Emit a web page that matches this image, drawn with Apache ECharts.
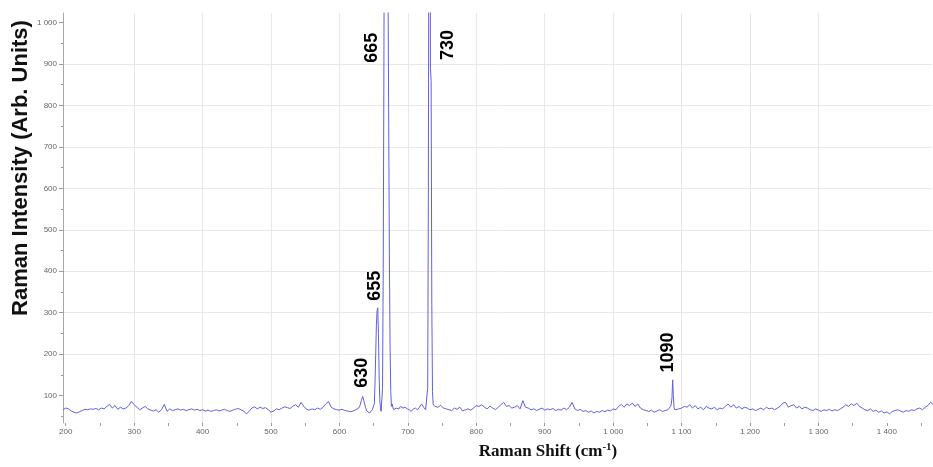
<!DOCTYPE html>
<html><head><meta charset="utf-8">
<script src="https://cdn.jsdelivr.net/npm/echarts@6/dist/echarts.min.js"></script>
<style>html,body{margin:0;padding:0;background:#fff}#c{width:933px;height:467px}</style>
</head><body><div id="c"></div>
<script>
// Baseline spectrum: first shift and step (cm-1), intensities
const baseStart = 196, baseStep = 4;
const baseline = [
66,70,68,63,60,58,61,64,67,66,
68,67,69,66,70,68,74,79,70,76,
67,72,68,70,76,86,78,72,66,70,
74,68,65,63,66,60,66,79,62,68,
64,66,68,65,67,64,66,68,65,67,
64,66,63,65,62,64,66,63,65,67,
64,62,65,67,69,66,63,56,62,70,
73,68,72,69,71,66,60,63,68,66,
70,73,71,69,75,78,72,84,74,67,
65,68,66,70,67,72,80,86,72,68,
66,65,67,64,63,61,63,66,70,80,
85,70,60,62,66,70,64,70,66,70,
72,64,72,68,77,70,73,68,62,70,
67,74,80,70,68,90,80,72,77,70,
68,66,64,70,67,72,63,66,68,65,
70,76,74,78,72,68,75,70,66,72,
78,84,74,76,70,72,76,68,88,72,
70,66,68,64,67,70,65,68,66,69,
64,67,65,70,66,72,84,68,64,67,
62,64,60,63,58,62,60,64,61,65,
63,68,66,74,79,72,80,76,82,74,
80,70,66,64,62,65,60,63,66,62,
64,66,70,100,75,68,70,74,72,78,
70,76,68,72,66,74,70,68,72,66,
70,68,74,80,72,78,70,74,68,72,
70,66,68,64,67,70,66,72,68,70,
66,70,74,82,84,72,76,78,70,74,
68,72,70,66,64,68,65,62,66,64,
67,63,66,64,68,72,78,74,80,76,
82,74,70,66,64,68,62,65,60,63,
58,61,56,62,64,66,63,60,64,62,
66,64,68,70,66,72,76,84,78
];
// Finely sampled peak regions [shift, intensity]
const peaks630to740 = [
[626,68],[628,70],[630,76],[632,88],[634,98],[636,86],[638,72],[640,63],[642,60],[644,58],
[646,61],[648,66],[650,70],[651,80],[652,130],[653,200],[654,270],[655,305],[656,312],[657,250],
[658,150],[659,90],[660,68],[661,62],[662,66],[663,120],[664,400],[665,900],[666,1500],[667,1900],
[668,2100],[669,1900],[670,1500],[671,1100],[672,750],[673,440],[674,220],[675,110],[676,74],[677,80],
[679,66],[681,63],[683,70],[685,72],[687,68],[689,74],[691,77],[693,70],[696,72],[699,68],
[702,66],[705,62],[708,68],[711,70],[714,66],[717,72],[720,80],[723,72],[726,66],[728,70],
[729,120],[730,600],[731,1600],[732,1900],[733,890],[734,860],[735,320],[736,110],[737,78],[740,74]
];
const peak1090 = [
[1080,66],[1082,62],[1084,74],[1085,80],[1086,95],[1087,138],[1088,100],[1089,72],[1090,66],[1092,70]
];
const xTickValues = [200,300,400,500,600,700,800,900,1000,1100,1200,1300,1400];
const yTickValues = [100,200,300,400,500,600,700,800,900,1000];
const peakLabels = ['630','655','665','730','1090'];
const peakLabelPos = [[632.8,155],[651.8,365],[647.4,939],[758.6,946],[1080.2,204]];

const segments = [peaks630to740, peak1090];
let pts = baseline.map((v,i)=>[baseStart+i*baseStep, v])
  .filter(p=>!segments.some(s=>p[0]>=s[0][0] && p[0]<=s[s.length-1][0]));
segments.forEach(s=>{pts = pts.concat(s);});
pts.sort((a,b)=>a[0]-b[0]);

const fmt = v => String(v).replace(/\B(?=(\d{3})+(?!\d))/g,' ');
const tickColor = '#9a9a9a';

const chart = echarts.init(document.getElementById('c'), null, {renderer:'canvas'});
chart.setOption({
  animation:false,
  backgroundColor:'#ffffff',
  grid:{left:63,right:1,top:13,bottom:44,containLabel:false},
  xAxis:{
    type:'value', min:196, max:1466, minInterval:100, maxInterval:100,
    axisLine:{show:false},
    axisTick:{show:true, customValues:xTickValues, length:3, lineStyle:{color:tickColor}},
    minorTick:{show:true, splitNumber:2, length:3, lineStyle:{color:tickColor}},
    axisLabel:{customValues:xTickValues, formatter:fmt, fontSize:8, color:'#666', margin:5, fontFamily:'Liberation Sans'},
    splitLine:{show:true, showMinLine:false, showMaxLine:false, lineStyle:{color:'#e8e8e8', width:1}},
    minorSplitLine:{show:false}
  },
  yAxis:{
    type:'value', min:34, max:1023, minInterval:100, maxInterval:100,
    axisLine:{show:true, lineStyle:{color:'#a8a8a8', width:1}},
    axisTick:{show:true, customValues:yTickValues, length:4, lineStyle:{color:tickColor}},
    minorTick:{show:true, splitNumber:2, length:2, lineStyle:{color:tickColor}},
    axisLabel:{customValues:yTickValues, formatter:fmt, fontSize:8, color:'#666', margin:6, fontFamily:'Liberation Sans'},
    splitLine:{show:true, showMinLine:false, showMaxLine:false, lineStyle:{color:'#e8e8e8', width:1}},
    minorSplitLine:{show:false}
  },
  series:[
    {type:'line', data:pts, showSymbol:false, symbol:'none', clip:true, sampling:'none',
     lineStyle:{color:'#6060e2', width:1}, silent:true, z:2},
    {type:'scatter', data:peakLabelPos.map((p,i)=>({value:p, name:peakLabels[i]})),
     symbol:'circle', symbolSize:2, itemStyle:{color:'rgba(255,255,255,0)'}, silent:true, z:3,
     label:{show:true, formatter:'{b}', position:'inside', rotate:90, opacity:1,
            fontSize:18, fontWeight:'bold', color:'#000', fontFamily:'Liberation Sans'}}
  ],
  graphic:[
    {type:'text', x:21, y:168, rotation:Math.PI/2, silent:true,
     style:{text:'Raman Intensity (Arb. Units)', fontSize:22, fontWeight:'bold', fontFamily:'Liberation Sans',
            fill:'#111', align:'center', verticalAlign:'middle'}},
    {type:'text', x:548, y:452, silent:true,
     style:{text:'{a|Raman Shift (cm}{s|-1}{a|)}', align:'center', verticalAlign:'middle',
            rich:{a:{fontSize:17, fontWeight:'bold', fontFamily:'Liberation Serif', fill:'#111'},
                  s:{fontSize:11, fontWeight:'bold', fontFamily:'Liberation Serif', fill:'#111', padding:[0,0,10,0]}}}}
  ]
});
</script></body></html>
